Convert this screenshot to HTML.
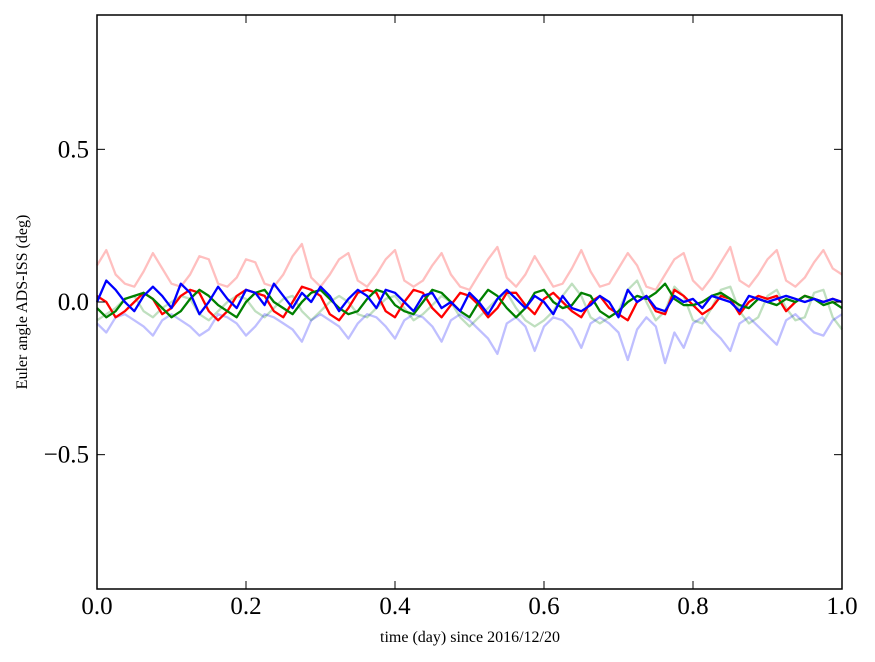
<!DOCTYPE html>
<html><head><meta charset="utf-8"><style>
body{margin:0;background:#fff;}
svg{display:block;font-family:"Liberation Serif",serif;}
</style></head><body>
<svg id="chart" width="875" height="662" viewBox="0 0 875 662">
<rect x="0" y="0" width="875" height="662" fill="#fff"/>
<g id="series"></g>
<g id="axes"></g>
<text x="470" y="642" font-size="16" text-anchor="middle">time (day) since 2016/12/20</text>
<text transform="translate(27,302) rotate(-90)" font-size="16" text-anchor="middle">Euler angle ADS-ISS (deg)</text>
</svg>
<script>
const xTicks=[0,0.2,0.4,0.6,0.8,1.0];
const xTickLabels=["0.0","0.2","0.4","0.6","0.8","1.0"];
const yTicks=[0.5,0,-0.5];
const yTickLabels=["0.5","0.0","\u22120.5"];
const pinkVals=[0.12,0.17,0.09,0.06,0.05,0.10,0.16,0.11,0.06,0.05,0.09,0.15,0.14,0.06,0.05,0.08,0.14,0.13,0.06,0.05,0.09,0.15,0.19,0.08,0.05,0.09,0.14,0.16,0.07,0.05,0.09,0.14,0.17,0.07,0.05,0.07,0.12,0.16,0.09,0.05,0.04,0.09,0.14,0.18,0.08,0.05,0.09,0.15,0.10,0.05,0.06,0.11,0.17,0.10,0.05,0.06,0.11,0.16,0.12,0.05,0.04,0.09,0.14,0.16,0.07,0.04,0.08,0.13,0.18,0.07,0.05,0.09,0.14,0.17,0.07,0.05,0.08,0.13,0.17,0.11,0.09];
const lightGreenVals=[-0.06,-0.04,-0.02,0.01,0.02,-0.03,-0.05,-0.02,0.0,0.02,0.01,-0.04,-0.06,-0.03,0.0,0.02,0.01,-0.03,-0.05,-0.02,0.01,0.02,-0.03,-0.06,-0.03,0.0,0.02,0.0,-0.04,-0.05,-0.02,0.01,0.02,-0.02,-0.06,-0.04,-0.01,0.02,0.0,-0.05,-0.08,-0.05,-0.02,0.01,0.03,-0.02,-0.06,-0.08,-0.06,-0.03,0.02,0.06,0.02,-0.05,-0.07,-0.05,-0.03,0.04,0.07,0.0,-0.06,-0.03,0.05,0.02,-0.06,-0.07,-0.02,0.04,0.05,-0.03,-0.07,-0.05,0.02,0.04,-0.02,-0.06,-0.05,0.03,0.04,-0.05,-0.09];
const lightBlueVals=[-0.07,-0.10,-0.05,-0.04,-0.06,-0.08,-0.11,-0.06,-0.04,-0.06,-0.08,-0.11,-0.09,-0.04,-0.05,-0.07,-0.11,-0.08,-0.04,-0.05,-0.07,-0.09,-0.13,-0.06,-0.04,-0.06,-0.08,-0.12,-0.07,-0.04,-0.05,-0.08,-0.12,-0.06,-0.04,-0.05,-0.08,-0.13,-0.06,-0.04,-0.06,-0.09,-0.12,-0.17,-0.07,-0.05,-0.08,-0.16,-0.08,-0.05,-0.06,-0.09,-0.15,-0.07,-0.05,-0.07,-0.10,-0.19,-0.09,-0.05,-0.08,-0.20,-0.10,-0.15,-0.07,-0.05,-0.09,-0.12,-0.16,-0.07,-0.05,-0.08,-0.11,-0.14,-0.06,-0.04,-0.07,-0.10,-0.11,-0.06,-0.04];
const redVals=[0.02,0.0,-0.05,-0.03,0.0,0.03,0.01,-0.04,-0.02,0.02,0.04,0.03,-0.03,-0.06,-0.03,0.02,0.04,0.03,0.02,-0.03,-0.05,0.0,0.05,0.04,0.02,-0.04,-0.06,-0.02,0.03,0.04,0.03,-0.03,-0.05,0.0,0.04,0.03,-0.02,-0.05,-0.01,0.03,0.02,-0.01,-0.05,-0.02,0.03,0.03,-0.01,-0.04,0.01,0.03,0.0,-0.03,-0.05,0.0,0.02,-0.02,-0.04,-0.06,0.0,0.02,-0.03,-0.04,0.04,0.02,-0.01,-0.04,-0.02,0.02,0.01,-0.04,0.0,0.02,0.01,0.02,-0.03,0.0,0.02,0.01,0.0,0.01,0.0];
const greenVals=[-0.02,-0.05,-0.03,0.01,0.02,0.03,0.01,-0.02,-0.05,-0.03,0.01,0.04,0.02,-0.01,-0.03,-0.05,0.0,0.03,0.04,0.0,-0.02,-0.04,0.0,0.03,0.04,0.01,-0.02,-0.04,-0.03,0.01,0.04,0.03,-0.01,-0.03,-0.04,0.0,0.04,0.03,0.0,-0.03,-0.05,0.0,0.04,0.02,-0.02,-0.05,-0.02,0.03,0.04,0.0,-0.02,-0.01,0.03,0.02,-0.03,-0.05,-0.03,0.0,0.02,0.01,0.03,0.06,0.01,-0.01,-0.01,0.0,0.02,0.03,0.01,-0.01,-0.02,0.01,0.0,-0.01,0.01,0.0,0.02,0.01,-0.01,0.0,-0.02];
const blueVals=[0.0,0.07,0.04,0.0,-0.03,0.02,0.05,0.02,-0.02,0.06,0.03,-0.04,0.0,0.05,0.01,-0.02,0.04,0.03,-0.01,0.06,0.02,-0.02,0.03,0.0,0.05,0.02,-0.03,0.01,0.04,0.02,-0.02,0.04,0.03,0.0,-0.03,0.02,0.03,-0.02,0.0,-0.03,0.03,0.0,-0.04,0.01,0.04,0.01,-0.02,0.02,0.0,-0.04,0.02,-0.02,-0.03,-0.01,0.02,0.0,-0.05,0.04,0.0,0.02,-0.02,-0.03,0.02,0.0,0.01,-0.02,0.02,0.01,0.0,-0.03,0.02,0.01,0.0,0.01,0.02,0.01,0.0,0.01,0.0,0.01,0.0];

const L=97,R=842,T=15,B=589, yMin=-0.94,yMax=0.94;
const xs=v=>L+(v-0)/(1-0)*(R-L);
const ys=v=>B-(v-yMin)/(yMax-yMin)*(B-T);
const NS="http://www.w3.org/2000/svg";
const sg=document.getElementById('series');
function line(vals,color,op,name){
  const p=document.createElementNS(NS,'path');
  let d='';
  vals.forEach((v,i)=>{const t=i/(vals.length-1);d+=(i?'L':'M')+xs(t).toFixed(1)+','+ys(v).toFixed(1);});
  p.setAttribute('d',d);p.setAttribute('fill','none');p.setAttribute('stroke',color);
  p.setAttribute('stroke-opacity',op);p.setAttribute('stroke-width','2.3');p.setAttribute('stroke-linejoin','round');
  
  
  sg.appendChild(p);
}
line(pinkVals,'#ff0000',0.25,'series-red-light');
line(lightGreenVals,'#008000',0.25,'series-green-light');
line(lightBlueVals,'#0000ff',0.25,'series-blue-light');
line(redVals,'#ff0000',1,'series-red');
line(greenVals,'#008000',1,'series-green');
line(blueVals,'#0000ff',1,'series-blue');

const ax=document.getElementById('axes');
const fr=document.createElementNS(NS,'rect');
fr.setAttribute('x',L);fr.setAttribute('y',T);fr.setAttribute('width',R-L);fr.setAttribute('height',B-T);
fr.setAttribute('fill','none');fr.setAttribute('stroke','#000');fr.setAttribute('stroke-width','1.5');


ax.appendChild(fr);
function tick(x1,y1,x2,y2){const l=document.createElementNS(NS,'line');
  l.setAttribute('x1',x1);l.setAttribute('y1',y1);l.setAttribute('x2',x2);l.setAttribute('y2',y2);
  l.setAttribute('stroke','#000');l.setAttribute('stroke-width','1');
  
  
  ax.appendChild(l);}
function label(x,y,s,anchor,name){const t=document.createElementNS(NS,'text');
  t.setAttribute('x',x);t.setAttribute('y',y);t.setAttribute('font-size','25');t.setAttribute('text-anchor',anchor);
  t.textContent=s;
  
  
  ax.appendChild(t);}
xTicks.forEach((v,i)=>{const x=xs(v);tick(x,B,x,B-8);tick(x,T,x,T+8);label(x,614,xTickLabels[i],'middle','x-tick-label');});
yTicks.forEach((v,i)=>{const y=ys(v);tick(L,y,L+8,y);tick(R,y,R-8,y);label(L-8,y+8,yTickLabels[i],'end','y-tick-label');});
</script>
</body></html>
